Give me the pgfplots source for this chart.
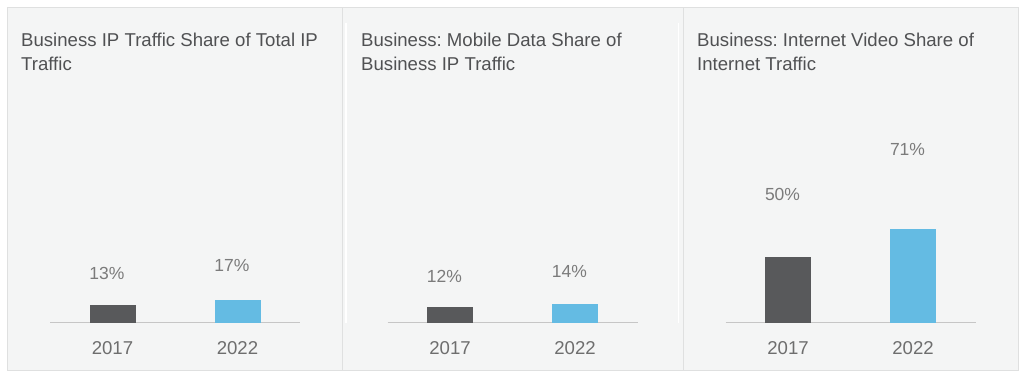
\documentclass[border=0pt]{standalone}
\usepackage{pgfplots}
\pgfplotsset{compat=1.18}
\usepackage{fontspec}
\setmainfont{Liberation Sans}
\frenchspacing
\definecolor{panelbg}{HTML}{F4F5F5}
\definecolor{panelborder}{HTML}{DFE0E0}
\definecolor{darkbar}{HTML}{58595B}
\definecolor{bluebar}{HTML}{64BBE3}
\definecolor{axisgray}{HTML}{C6C6C6}
\definecolor{titlegray}{HTML}{505153}
\definecolor{tickgray}{HTML}{6E6E6E}
\definecolor{labgray}{HTML}{7B7B7B}
\pgfplotsset{
  panel/.style={
    width=250bp, height=131bp, scale only axis,
    xmin=-0.5, xmax=1.5, ymin=0, ymax=100,
    enlargelimits=false, clip=false,
    axis y line=none, axis x line*=bottom,
    x axis line style={draw=axisgray, line width=1.2bp, -},
    xtick={0,1}, xticklabels={2017,2022},
    xtick style={draw=none},
    xticklabel style={font=\fontsize{18.6bp}{20bp}\selectfont, text=tickgray, anchor=center, yshift=-25.2bp},
    ytick=\empty,
    anchor=south west,
  },
  barA/.style={ybar, bar width=46bp, bar shift=0pt, fill=darkbar, draw=none},
  barB/.style={ybar, bar width=46bp, bar shift=0pt, fill=bluebar, draw=none},
  labs/.style={draw=none, mark=none, nodes near coords, point meta=explicit symbolic,
    nodes near coords style={anchor=center, xshift=-5.5bp, font=\fontsize{17.5bp}{19bp}\selectfont, text=labgray}},
}
\begin{document}
\begin{tikzpicture}[x=1bp,y=1bp]
\fill[white] (0,0) rectangle (1024,377);
\path[use as bounding box] (0,0) rectangle (1024,377);
% panels
\filldraw[fill=panelbg, draw=panelborder, line width=1bp] (7,7) rectangle (342,369);
\filldraw[fill=panelbg, draw=panelborder, line width=1bp] (342,7) rectangle (683,369);
\filldraw[fill=panelbg, draw=panelborder, line width=1bp] (683,7) rectangle (1018,369);
\draw[white, line width=1.6bp] (345.7,54) -- (345.7,354);
\draw[white, line width=1.6bp] (678.3,54) -- (678.3,354);
% titles
\def\tfont{\fontsize{18.6bp}{23.7bp}\selectfont\color{titlegray}}
\node[anchor=base west, inner sep=0] at (21,330.7) {\tfont Business IP Traffic Share of Total IP};
\node[anchor=base west, inner sep=0] at (21,307) {\tfont Traffic};
\node[anchor=base west, inner sep=0] at (361,330.7) {\tfont Business: Mobile Data Share of};
\node[anchor=base west, inner sep=0] at (361,307) {\tfont Business IP Traffic};
\node[anchor=base west, inner sep=0] at (697,330.7) {\tfont Business: Internet Video Share of};
\node[anchor=base west, inner sep=0] at (697,307) {\tfont Internet Traffic};
% panel 1
\begin{axis}[panel, at={(50bp,54.5bp)}]
\addplot[barA] coordinates {(0,13)};
\addplot[barB] coordinates {(1,17)};
\addplot[labs] coordinates {(0,37.8)[13\%] (1,43.9)[17\%]};
\end{axis}
% panel 2
\begin{axis}[panel, at={(387.5bp,54.5bp)}]
\addplot[barA] coordinates {(0,12)};
\addplot[barB] coordinates {(1,14)};
\addplot[labs] coordinates {(0,35.5)[12\%] (1,39.3)[14\%]};
\end{axis}
% panel 3
\begin{axis}[panel, at={(725.5bp,54.5bp)}]
\addplot[barA] coordinates {(0,50)};
\addplot[barB] coordinates {(1,71)};
\addplot[labs] coordinates {(0,98.1)[50\%] (1,132.4)[71\%]};
\end{axis}
\end{tikzpicture}
\end{document}
